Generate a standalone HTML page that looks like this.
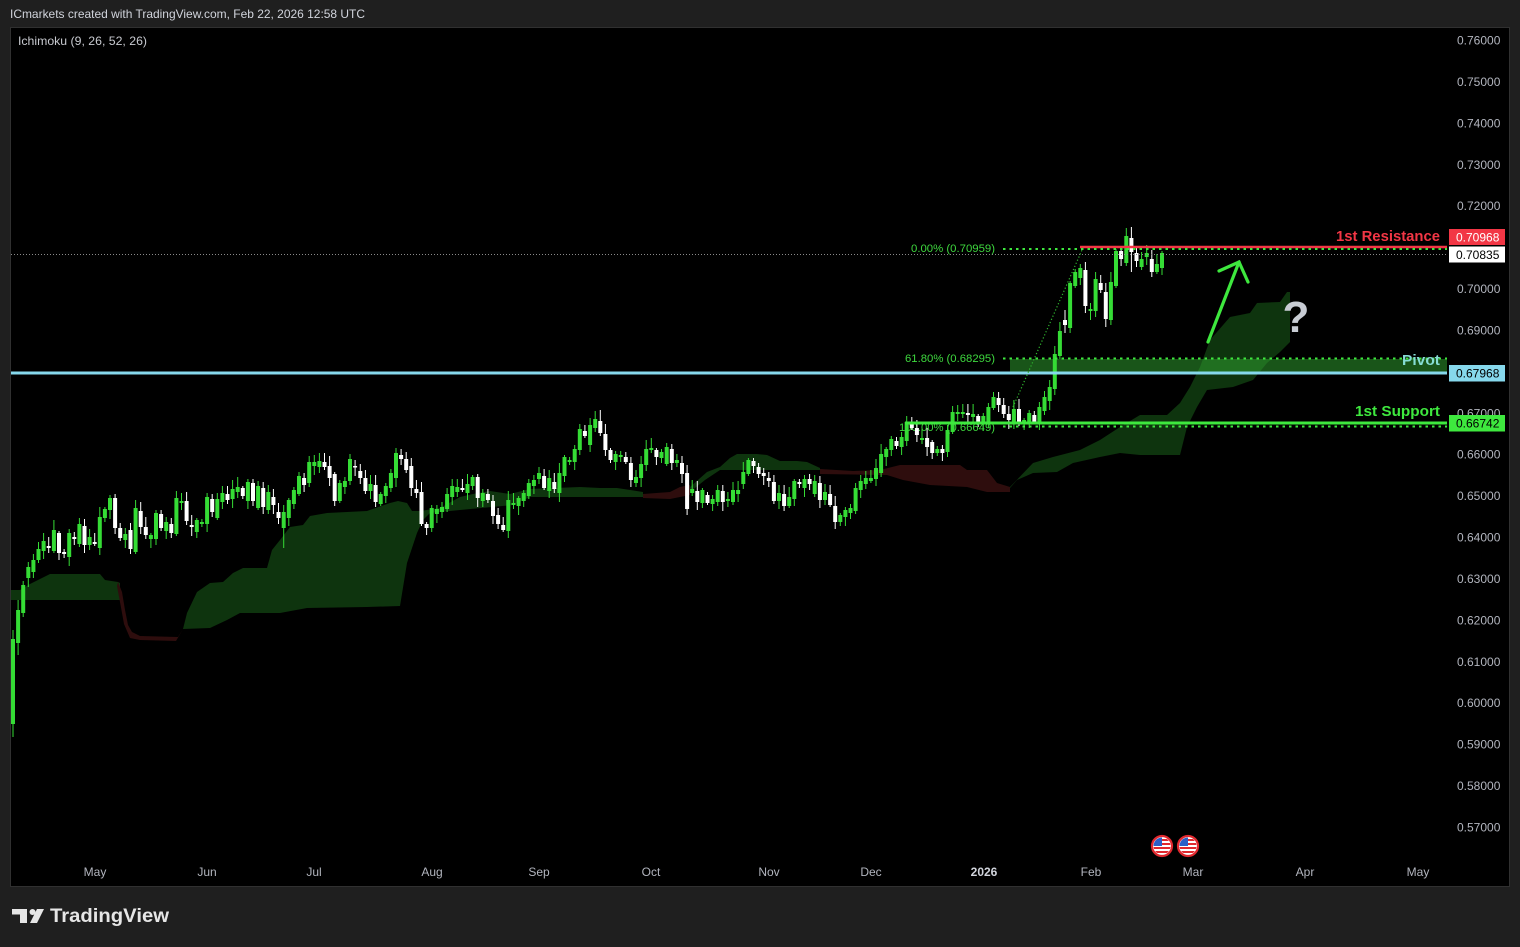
<!DOCTYPE html>
<html><head><meta charset="utf-8"><style>
html,body{margin:0;padding:0;background:#1f1f1f;}
svg{display:block;}
text{font-family:"Liberation Sans",sans-serif;}
</style></head><body>
<svg id="s" width="1520" height="947" viewBox="0 0 1520 947" xmlns="http://www.w3.org/2000/svg">
<defs>
<clipPath id="fc"><circle r="8.5"/></clipPath>
<g id="flag"><circle r="10" fill="#fff" stroke="#e0282e" stroke-width="2.2"/>
<g clip-path="url(#fc)"><rect x="-9" y="-9" width="18" height="18" fill="#fff"/>
<rect x="-9" y="-7" width="18" height="2" fill="#e0282e"/><rect x="-9" y="-3" width="18" height="2" fill="#e0282e"/>
<rect x="-9" y="1" width="18" height="2" fill="#e0282e"/><rect x="-9" y="5" width="18" height="2" fill="#e0282e"/>
<rect x="-9" y="-9" width="9" height="9" fill="#2a5fc8"/></g></g>
</defs>
<rect width="1520" height="947" fill="#1f1f1f"/>
<rect x="10.5" y="27.5" width="1499" height="859" fill="#000" stroke="#303030"/>

<!-- header -->
<text x="10" y="18" font-size="12" fill="#d1d4dc" textLength="355" lengthAdjust="spacingAndGlyphs">ICmarkets created with TradingView.com, Feb 22, 2026 12:58 UTC</text>
<text x="18" y="45" font-size="12" fill="#c8cad0" textLength="129" lengthAdjust="spacingAndGlyphs">Ichimoku (9, 26, 52, 26)</text>

<!-- clouds -->
<g fill="#0e340e">
<polygon points="11,590 20,590 30,584 50,574 100,574 105,580 118,582 120,583 120,600 11,600"/>
<polygon points="183,629 187,613 197,592 210,583 223,582 233,573 243,568 267,568 272,550 280,540 290,527 303,525 310,516 327,513 367,511 390,503 398,501 407,503 412,511 420,511 440,508 460,497 473,494 490,491 510,494 530,489 580,487 600,488 617,488 643,492 643,497 600,497 560,497 530,497 513,505 460,510 430,513 423,520 417,533 407,563 400,606 367,607 307,608 280,613 240,613 227,620 210,628"/>
<polygon points="690,487 707,472 720,467 730,458 737,454 757,454 767,455 780,461 797,461 807,462 820,468 820,470 740,470 720,470 705,480 690,492"/>
<polygon points="1010,487 1033,463 1053,457 1080,450 1100,440 1120,427 1140,415 1167,415 1180,403 1190,387 1200,367 1210,340 1230,317 1250,313 1257,303 1280,302 1287,292 1290,292 1290,342 1280,352 1267,363 1253,380 1233,387 1207,390 1197,407 1187,427 1180,455 1140,455 1120,453 1100,457 1073,463 1057,472 1033,473 1017,480 1010,488"/>
</g>
<g fill="#2e0d0d">
<polygon points="118,582 122,592 125,610 128,625 132,632 140,636 178,637 183,629 176,641 140,640 130,638 124,624 120,602 117,586"/>
<polygon points="643,494 670,492 680,487 690,485 690,495 670,499 643,498"/>
<polygon points="820,469 853,471 880,470 900,465 960,465 967,470 987,470 997,483 1010,487 1010,492 987,492 967,487 930,485 903,480 887,475 820,474"/>
</g>

<!-- pivot zone -->
<rect x="1010" y="359" width="437" height="13" fill="rgba(50,170,50,0.5)"/>

<!-- fib labels -->
<g font-size="11" fill="#3ed83e" text-anchor="end">
<text x="995" y="252" textLength="84" lengthAdjust="spacingAndGlyphs">0.00% (0.70959)</text>
<text x="995" y="362" textLength="90" lengthAdjust="spacingAndGlyphs">61.80% (0.68295)</text>
<text x="995" y="431" textLength="96" lengthAdjust="spacingAndGlyphs">100.00% (0.66649)</text>
</g>

<!-- candles -->
<g id="candles"></g>

<!-- lines -->
<line x1="11" y1="254.5" x2="1447" y2="254.5" stroke="#8a8a8a" stroke-width="1" stroke-dasharray="1 2"/>
<line x1="1080" y1="247" x2="1447" y2="247" stroke="#f23645" stroke-width="2.5"/>
<line x1="1003" y1="249" x2="1447" y2="249" stroke="#3ee83e" stroke-width="2" stroke-dasharray="2.5 4"/>
<line x1="1003" y1="358.5" x2="1447" y2="358.5" stroke="#3ee83e" stroke-width="2" stroke-dasharray="2.5 4"/>
<line x1="11" y1="373" x2="1447" y2="373" stroke="#86d8ec" stroke-width="3"/>
<line x1="905" y1="423" x2="1447" y2="423" stroke="#3ee83e" stroke-width="3"/>
<line x1="1003" y1="426.5" x2="1447" y2="426.5" stroke="#3ee83e" stroke-width="2" stroke-dasharray="2.5 4"/>
<line x1="1013" y1="407" x2="1082" y2="250" stroke="#2fb82f" stroke-width="1.2" stroke-dasharray="1.2 2.2"/>

<!-- arrow -->
<g stroke="#3ee83e" stroke-width="3.2" stroke-linecap="round" fill="none">
<line x1="1208" y1="342" x2="1239" y2="262"/>
<polyline points="1219,271 1239,262 1248,282"/>
</g>
<text x="1296" y="332" font-size="44" font-weight="bold" fill="#c8ccd4" text-anchor="middle">?</text>

<!-- right annotations -->
<text x="1440" y="241" font-size="15" font-weight="bold" fill="#f23645" text-anchor="end" textLength="104" lengthAdjust="spacingAndGlyphs">1st Resistance</text>
<text x="1440" y="365" font-size="15" font-weight="bold" fill="#86dcd4" text-anchor="end" textLength="38" lengthAdjust="spacingAndGlyphs">Pivot</text>
<text x="1440" y="416" font-size="15" font-weight="bold" fill="#3ee83e" text-anchor="end" textLength="85" lengthAdjust="spacingAndGlyphs">1st Support</text>

<!-- price axis -->
<g id="axis" font-size="12" fill="#b2b5be"></g>
<rect x="1449" y="229" width="56" height="16" fill="#f23645"/>
<text x="1456" y="241.5" font-size="12" fill="#fff">0.70968</text>
<rect x="1449" y="246.5" width="56" height="16" fill="#fff"/>
<text x="1456" y="259" font-size="12" fill="#000">0.70835</text>
<rect x="1449" y="365" width="56" height="16.5" fill="#86d8ec"/>
<text x="1456" y="377.5" font-size="12" fill="#000">0.67968</text>
<rect x="1449" y="415" width="56" height="16.5" fill="#3ee83e"/>
<text x="1456" y="427.5" font-size="12" fill="#000">0.66742</text>

<!-- time axis -->
<g font-size="12" fill="#b2b5be" text-anchor="middle">
<text x="95" y="876">May</text><text x="207" y="876">Jun</text><text x="314" y="876">Jul</text>
<text x="432" y="876">Aug</text><text x="539" y="876">Sep</text><text x="651" y="876">Oct</text>
<text x="769" y="876">Nov</text><text x="871" y="876">Dec</text>
<text x="984" y="876" font-weight="bold" fill="#d1d4dc">2026</text>
<text x="1091" y="876">Feb</text><text x="1193" y="876">Mar</text><text x="1305" y="876">Apr</text><text x="1418" y="876">May</text>
</g>

<use href="#flag" x="1162" y="846"/>
<use href="#flag" x="1188" y="846"/>

<!-- TradingView logo -->
<g fill="#e6e6e6">
<rect x="12" y="909" width="15" height="5.5"/>
<rect x="20" y="909" width="7" height="14"/>
<circle cx="32.5" cy="912" r="3"/>
<polygon points="37,909 44,909 37,923 30,923"/>
<text x="50" y="922" font-size="19" font-weight="bold" textLength="119" lengthAdjust="spacingAndGlyphs">TradingView</text>
</g>
</svg>
<script>
(function(){
var D="G639,724,630,737 G610,643,600,655 G585,613 G567,578 G560,572 G549,560 G541,551 W546,548 G530,551 W533,553 W552,554 G533,557 W537,539 G524,544 W526,545 G537,545 W542,544 G517,548 G509,518 G498,510 W498,528 W528,538 G534,540 W530,549 G508,552 W511,527 W527,535 G535,539 G513,539 W514,528 G522,531 W524,533 G498,534 G501,503 W501,521 W525,527 G520,532 G522,524 G497,524 W499,512 G499,518 G493,502 W494,500 G489,499 G487,492 W488,496 G482,501 W483,501 G486,508 W488,507 G492,510 W497,505 W512,518 G512,528,505,548 G500,518 G490,504 G476,494 W478,485 G462,483 G462,466 G461,467 W462,467 W466,478 W474,501 G483,501 G481,487 G459,481 W466,467 W471,478 W478,491 G484,491 W485,502 G494,504 G486,496 G473,488 G453,478 W455,459 W459,470 W466,488 W489,493 W492,524 W524,528 G508,528 G509,514 G507,512 G494,509 G486,497 G487,492 W488,490 G484,493 G477,486 W477,498 G493,501 W494,500 W501,516 W515,524 W525,530 G500,531 G503,505 G498,506 G493,501 G483,496 G480,486 G473,479 W476,488 G478,491 W482,489 G473,493 G457,476 G460,462 G449,462 G429,450 W431,436 G425,445 G419,428 W421,433,410,436 W434,450 W450,460 G454,462 G455,457 W457,462 W463,480 G477,483 G464,478 G449,465 G448,450 W450,457 G452,458 G447,464 W449,463 G460,463 W463,474 W473,509 G489,493 W491,502 G490,503 W495,503 G499,504 G490,502 W491,502 G499,501 G490,502 G490,494 G472,484 G460,474 W461,466 W467,474 W473,476 W478,481 W482,501 G493,501 W494,506 G497,506 G481,499 W482,484 G479,488 W479,484 G481,494 W483,500 G492,500 W494,505 W506,522 G515,522 G510,517 G508,513 G488,511 G481,490 G478,484 G478,481 G468,479 G454,473 G449,457 G439,450 W441,446 G437,447 G422,441 W424,428 W428,435 G438,440 W438,447 W442,453 G449,453 W449,453 G430,452 G412,432 G412,414 G412,414 W413,415 G414,417 W416,424 G416,423 G407,423 G397,408 W398,405 W405,414 W414,420 G409,423 W409,423 G420,422 G413,423 W415,422 G407,423 G397,411 G387,401 G354,389 G331,356 W320,325 G283,328 G272,286 G268,278 W270,306,262,313 G309,311 G279,311 W283,290 W292,319 G282,320 G251,286 W251,259 G236,263,228,266 W238,252,227,272 W253,261 G259,267 G253,257 W259,272 G264,272 G253,268".split(" ");
var n=D.length,step=1149/(n-1),s="";
for(var i=0;i<n;i++){
 var d=D[i],c=d[0],v=d.slice(1).split(",").map(Number);
 var t=v[0],b=v[1],h=v[2],l=v[3];
 if(h===undefined){h=t-(2+(i*37)%9);l=b+(2+(i*53)%8);}
 var x=13+i*step,col=c==="G"?"#35dc35":"#ffffff";
 s+='<rect x="'+(x-0.5).toFixed(1)+'" y="'+h+'" width="1" height="'+(l-h)+'" fill="'+col+'"/>';
 s+='<rect x="'+(x-2).toFixed(1)+'" y="'+t+'" width="4" height="'+Math.max(1.5,b-t)+'" fill="'+col+'"/>';
}
document.getElementById("candles").innerHTML=s;
var a="";
for(var k=0;k<=19;k++){
 var p=0.76-k*0.01;
 if(Math.abs(p-0.71)<1e-6||Math.abs(p-0.68)<1e-6)continue;
 var y=40+k*(787/19);
 a+='<text x="1457" y="'+(y+4.5).toFixed(1)+'">'+p.toFixed(5)+'</text>';
}
document.getElementById("axis").innerHTML=a;
})();
</script>
</body></html>
